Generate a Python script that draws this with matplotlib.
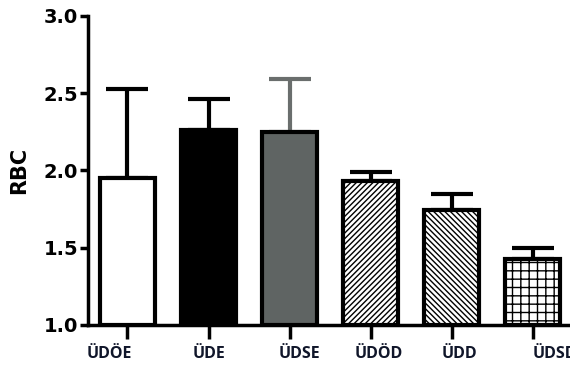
import matplotlib
matplotlib.use("Agg")
import matplotlib.pyplot as plt
import matplotlib.transforms as mtransforms

# group names and mean RBC values with upper error
groups = ["ÜDÖE", "ÜDE", "ÜDSE", "ÜDÖD", "ÜDD", "ÜDSD"]
means = [1.95, 2.26, 2.25, 1.93, 1.745, 1.43]
errors = [0.58, 0.20, 0.34, 0.06, 0.105, 0.07]

face_colors = ["white", "black", "#5f6463", "white", "white", "white"]
hatches = [None, None, None, "//////", "\\\\\\\\\\\\", "++"]
err_colors = ["black", "black", "#6a6e6d", "black", "black", "black"]
# the group labels sit a bit off their ticks in the original
label_shift = [-0.22, 0.0, 0.12, 0.10, 0.09, 0.27]

plt.rcParams["hatch.linewidth"] = 1.0
plt.rcParams["font.family"] = ["DejaVu Sans"]

fig = plt.figure(figsize=(5.7, 3.65), dpi=100)
ax = fig.add_axes([0.154, 0.1096, 0.846, 0.8466])

x = list(range(len(groups)))
for i in x:
    ax.errorbar(i, means[i], yerr=[[0], [errors[i]]], fmt="none",
                ecolor=err_colors[i], elinewidth=3, capsize=15, capthick=3,
                zorder=1)
    ax.bar(i, means[i] - 1.0, bottom=1.0, width=0.68, color=face_colors[i],
           edgecolor="black", linewidth=3, hatch=hatches[i], zorder=2)

ax.set_ylim(1.0, 3.0)
ax.set_xlim(-0.49, 5.46)
ax.set_yticks([1.0, 1.5, 2.0, 2.5, 3.0])
ax.set_yticklabels(["1.0", "1.5", "2.0", "2.5", "3.0"], fontsize=14,
                   fontweight="bold")
ax.set_xticks(x)
ax.set_xticklabels([])
trans = mtransforms.blended_transform_factory(ax.transData, ax.transAxes)
for i in x:
    ax.text(i + label_shift[i], -0.095, groups[i], transform=trans,
            ha="center", va="center", fontsize=11.5, fontweight="bold",
            family="Open Sans", color="#10162a", clip_on=False)
ax.set_ylabel("RBC", fontsize=15, fontweight="bold", labelpad=10)

ax.spines["top"].set_visible(False)
ax.spines["right"].set_visible(False)
ax.spines["left"].set_linewidth(2.5)
ax.spines["bottom"].set_linewidth(2.5)
ax.tick_params(axis="y", length=6, width=2.5, pad=1)
ax.tick_params(axis="x", length=10, width=2.5)

fig.savefig("out.png", dpi=100)
